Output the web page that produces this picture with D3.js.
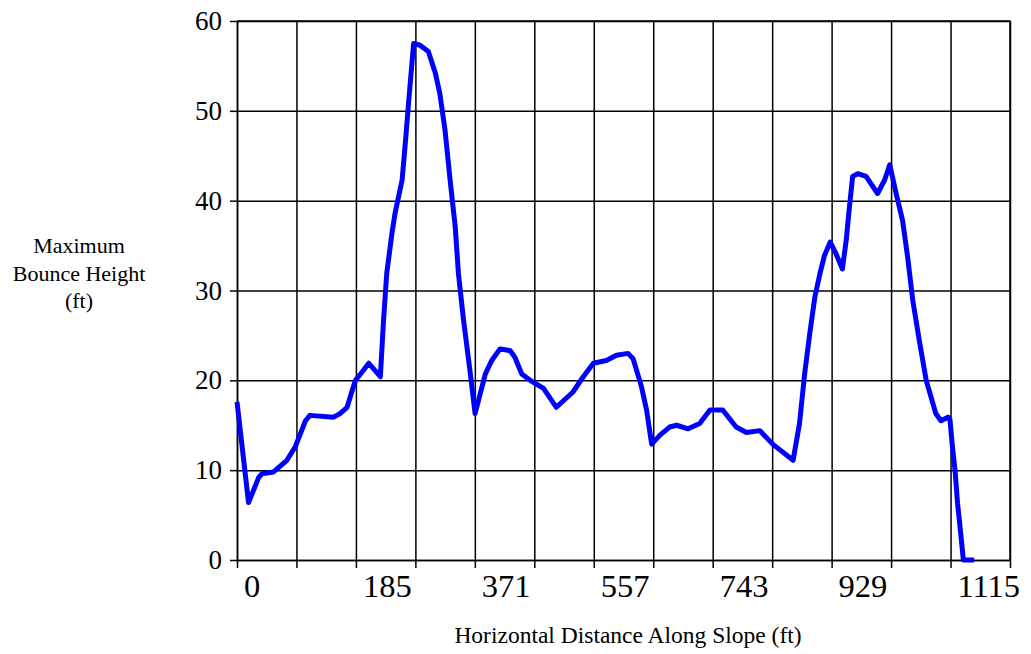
<!DOCTYPE html>
<html>
<head>
<meta charset="utf-8">
<script src="https://cdn.jsdelivr.net/npm/d3@7"></script>
<style>
  body { margin: 0; background: #fff; }
  svg { display: block; font-family: "Liberation Serif", "Times New Roman", serif; }
</style>
</head>
<body>
<svg id="plot" width="1031" height="654"></svg>
<script>
// distance along slope (ft) and max bounce height (ft)
const distance = [0, 18, 34, 39, 57, 78, 91, 107, 114, 151, 161, 172, 185, 193, 206, 224,
  229, 234, 242, 247, 258, 263, 268, 276, 286, 299, 310, 317, 325, 333, 341, 346, 354, 364, 372,
  388, 398, 411, 427, 434, 445, 458, 479, 499, 525, 541, 557, 577, 593, 611, 619, 632, 640, 648,
  661, 676, 687, 705, 723, 739, 759, 780, 796, 817, 837, 869, 879, 887, 895, 903, 911, 918, 927,
  936, 946, 952, 957, 962, 970, 983, 1001, 1012, 1020, 1030, 1040, 1048, 1056, 1066, 1077, 1092,
  1100, 1111, 1114, 1118, 1122, 1126, 1131, 1135, 1152];
const bounce = [17.6, 6.4, 9.2, 9.6, 9.8, 11.1, 12.6, 15.5, 16.1, 15.9, 16.3, 17.0, 20.0, 20.7, 21.9, 20.4,
  26.7, 31.9, 36.3, 38.6, 42.3, 46.4, 50.8, 57.5, 57.3, 56.6, 54.2, 51.9, 47.9, 42.3, 37.1, 31.9, 26.7, 21.1, 16.3,
  20.7, 22.2, 23.5, 23.3, 22.6, 20.7, 20.0, 19.1, 17.0, 18.7, 20.4, 21.9, 22.2, 22.8, 23.0, 22.4, 19.3, 16.7, 12.9,
  13.9, 14.8, 15.0, 14.6, 15.2, 16.7, 16.7, 14.8, 14.2, 14.4, 12.9, 11.1, 15.2, 20.7, 25.2, 29.3, 31.9, 33.9, 35.4,
  34.1, 32.4, 35.6, 39.3, 42.7, 43.0, 42.7, 40.8, 42.3, 44.0, 40.8, 37.8, 33.7, 28.9, 24.5, 20.0, 16.3,
  15.5, 15.9, 15.7, 12.6, 10.0, 6.3, 2.9, 0, 0];

const xLabels = ['0', '185', '371', '557', '743', '929', '1115'];
const yTicks = [0, 10, 20, 30, 40, 50, 60];
const gridStep = 1115 / 12;
const gridCount = 13;

const plot = d3.select('#plot');

const plotLeft = 237, plotRight = 1010, plotTop = 21, plotBottom = 560;

const xScale = d3.scaleLinear()
  .domain([0, gridStep * gridCount])
  .range([plotLeft, plotRight]);

const yScale = d3.scaleLinear()
  .domain([0, 60])
  .range([plotBottom, plotTop]);

const gridValues = d3.range(gridCount + 1).map(i => i * gridStep);

// vertical grid
plot.append('g')
  .attr('transform', `translate(0, ${plotBottom})`)
  .call(d3.axisBottom(xScale)
    .tickValues(gridValues)
    .tickSizeInner(-(plotBottom - plotTop))
    .tickSizeOuter(0)
    .tickFormat(''))
  .call(g => g.select('.domain').remove());

// horizontal grid
plot.append('g')
  .attr('transform', `translate(${plotLeft}, 0)`)
  .call(d3.axisLeft(yScale)
    .tickValues(yTicks)
    .tickSizeInner(-(plotRight - plotLeft))
    .tickSizeOuter(0)
    .tickFormat(''))
  .call(g => g.select('.domain').remove());

plot.selectAll('g .tick line')
  .attr('stroke', '#000')
  .attr('stroke-width', 1.5);

// x axis ticks below
const xAxisG = plot.append('g')
  .attr('transform', `translate(0, ${plotBottom})`)
  .call(d3.axisBottom(xScale)
    .tickValues(gridValues)
    .tickSizeInner(8)
    .tickSizeOuter(0)
    .tickFormat(''));

xAxisG.selectAll('line, path')
  .attr('stroke', '#000')
  .attr('stroke-width', 1.5);

plot.append('g')
  .selectAll('text')
  .data(xLabels)
  .join('text')
  .attr('x', (d, i) => xScale(gridValues[i * 2]) + 7)
  .attr('y', 597)
  .attr('font-size', 32.5)
  .attr('fill', '#000')
  .text(d => d);

// y axis
const yAxisG = plot.append('g')
  .attr('transform', `translate(${plotLeft}, 0)`)
  .call(d3.axisLeft(yScale)
    .tickValues(yTicks)
    .tickSizeInner(7)
    .tickSizeOuter(0)
    .tickPadding(8)
    .tickFormat(d3.format('d')));

yAxisG.selectAll('line, path')
  .attr('stroke', '#000')
  .attr('stroke-width', 1.5);

yAxisG.selectAll('text')
  .attr('font-size', 27)
  .attr('font-family', '"Liberation Serif", serif')
  .attr('fill', '#000');

// top and right frame
plot.append('path')
  .attr('d', `M${plotLeft},${plotTop}H${plotRight}V${plotBottom}`)
  .attr('fill', 'none')
  .attr('stroke', '#000')
  .attr('stroke-width', 1.5);

const line = d3.line()
  .x((d, i) => xScale(distance[i]))
  .y(d => yScale(d));

plot.append('path')
  .attr('d', line(bounce))
  .attr('fill', 'none')
  .attr('stroke', '#0000ff')
  .attr('stroke-width', 5)
  .attr('stroke-linejoin', 'round');

// axis titles
const yTitle = plot.append('text')
  .attr('text-anchor', 'middle')
  .attr('font-size', 22)
  .attr('fill', '#000');

['Maximum', 'Bounce Height', '(ft)'].forEach((t, i) => {
  yTitle.append('tspan')
    .attr('x', 79)
    .attr('y', 253 + i * 27.5)
    .text(t);
});

plot.append('text')
  .attr('x', 628)
  .attr('y', 643)
  .attr('text-anchor', 'middle')
  .attr('font-size', 23.5)
  .attr('fill', '#000')
  .text('Horizontal Distance Along Slope (ft)');
</script>
</body>
</html>
